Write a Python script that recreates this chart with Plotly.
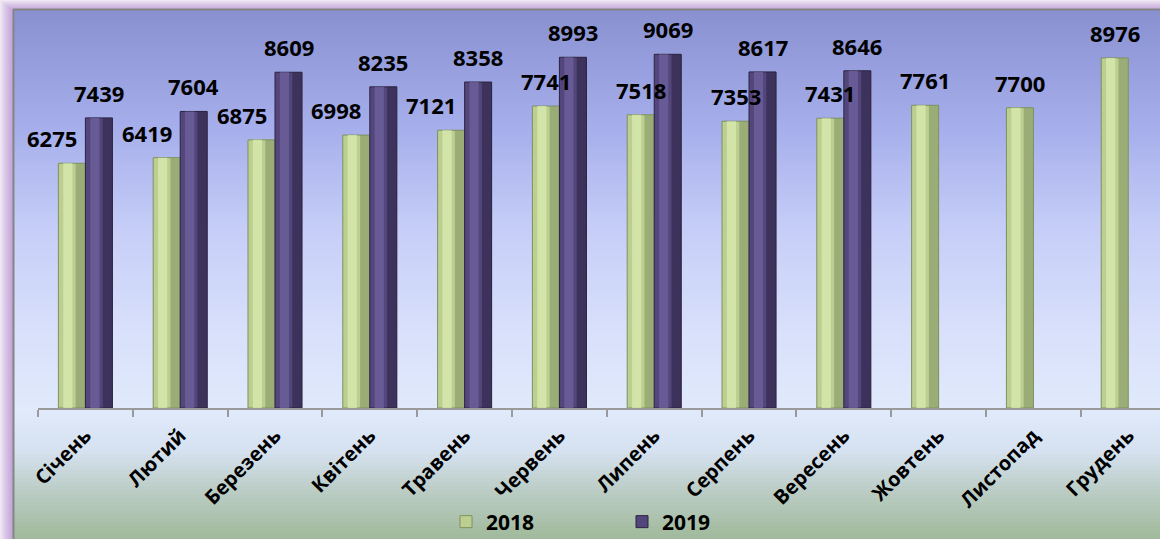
import plotly.graph_objects as go

months = ["Січень", "Лютий", "Березень", "Квітень", "Травень", "Червень",
          "Липень", "Серпень", "Вересень", "Жовтень", "Листопад", "Грудень"]
values_2018 = [6275, 6419, 6875, 6998, 7121, 7741, 7518, 7353, 7431, 7761, 7700, 8976]
values_2019 = [7439, 7604, 8609, 8235, 8358, 8993, 9069, 8617, 8646, None, None, None]
series_names = ["2018", "2019"]

W, H = 1160, 539
ML, MR, MT, MB = 38, 0, 10, 131
PW, PH = W - ML - MR, H - MT - MB
FONT = "Open Sans"


def px_x(p):
    return (p - ML) / PW


def px_y(p):
    return (H - MB - p) / PH


def hex2rgb(h):
    h = h.lstrip("#")
    return tuple(int(h[i:i + 2], 16) for i in (0, 2, 4))


def interp(stops, t):
    for (t0, c0), (t1, c1) in zip(stops, stops[1:]):
        if t0 <= t <= t1:
            f = 0 if t1 == t0 else (t - t0) / (t1 - t0)
            a, b = hex2rgb(c0), hex2rgb(c1)
            return "rgb(%d,%d,%d)" % tuple(round(a[k] + (b[k] - a[k]) * f) for k in range(3))
    return stops[-1][1]


shapes = []
# background vertical gradient (pixel y -> colour)
bg_stops = [(10, "#8890d0"), (120, "#a4acea"), (230, "#c6cef8"), (330, "#d8e0fb"),
            (410, "#e0eafb"), (450, "#d6e2f1"), (490, "#bccdc6"), (539, "#a0b99a")]
step = 4
for y0 in range(10, H, step):
    y1 = min(H, y0 + step + 1)
    shapes.append(dict(type="rect", xref="paper", yref="paper", layer="below",
                       x0=px_x(14), x1=px_x(W), y0=px_y(y1), y1=px_y(y0),
                       fillcolor=interp(bg_stops, y0 + step / 2), line_width=0))
# left frame gradient
fr_stops = [(0, "#efe7f4"), (6, "#d6c0e4"), (13, "#bea0d6")]
for x0 in range(0, 13):
    shapes.append(dict(type="rect", xref="paper", yref="paper", layer="below",
                       x0=px_x(x0), x1=px_x(x0 + 1.2), y0=px_y(H), y1=px_y(min(x0, 9)),
                       fillcolor=interp(fr_stops, x0), line_width=0))
# top frame gradient
for y0 in range(0, 9):
    shapes.append(dict(type="rect", xref="paper", yref="paper", layer="below",
                       x0=px_x(y0 + 1), x1=px_x(W), y0=px_y(y0 + 1.2), y1=px_y(y0),
                       fillcolor=interp([(0, "#efe7f4"), (5, "#d6c0e4"), (9, "#c4a8da")], y0),
                       line_width=0))
# grey inner border lines
shapes.append(dict(type="line", xref="paper", yref="paper", layer="below",
                   x0=px_x(13.5), x1=px_x(13.5), y0=px_y(H), y1=px_y(9),
                   line=dict(color="#858585", width=2)))
shapes.append(dict(type="line", xref="paper", yref="paper", layer="below",
                   x0=px_x(13), x1=px_x(W), y0=px_y(9.5), y1=px_y(9.5),
                   line=dict(color="#858585", width=2)))

fig = go.Figure()
w = 0.285
green = dict(edge="#7d9160", mid="#bccf90", hi="#d8e8ae")
purple = dict(edge="#2c2340", mid="#53467c", hi="#6e5f9a")

for vals, off, pal, name in [(values_2018, -w, green, series_names[0]),
                             (values_2019, 0.0, purple, series_names[1])]:
    fig.add_trace(go.Bar(x=months, y=vals, name=name, offset=off, width=w,
                         marker=dict(color=pal["mid"], line=dict(color=pal["edge"], width=1)),
                         showlegend=True, legendgroup=name))
    fig.add_trace(go.Bar(x=months, y=vals, offset=off + w * 0.64, width=w * 0.36,
                         marker=dict(color=pal["edge"], line_width=0, opacity=0.55),
                         showlegend=False, legendgroup=name, hoverinfo="skip"))
    fig.add_trace(go.Bar(x=months, y=vals, offset=off + w * 0.18, width=w * 0.34,
                         marker=dict(color=pal["hi"], line_width=0, opacity=0.8),
                         showlegend=False, legendgroup=name, hoverinfo="skip"))

annotations = []
lab_font = dict(family=FONT, size=22, color="#000", weight="bold")
for i, (a, b) in enumerate(zip(values_2018, values_2019)):
    shift = -20 if i < 5 else 0
    annotations.append(dict(x=i - w / 2, y=a, xref="x", yref="y", text=str(a),
                            showarrow=False, yanchor="bottom", yshift=8, xshift=shift,
                            font=lab_font))
    if b is not None:
        annotations.append(dict(x=i + w / 2, y=b, xref="x", yref="y", text=str(b),
                                showarrow=False, yanchor="bottom", yshift=8,
                                font=lab_font))

fig.update_layout(
    width=W, height=H,
    margin=dict(l=ML, r=MR, t=MT, b=MB, pad=0, autoexpand=False),
    paper_bgcolor="#e0eafb", plot_bgcolor="rgba(0,0,0,0)",
    barmode="overlay",
    shapes=shapes, annotations=annotations,
    font=dict(family=FONT, color="#000"),
    xaxis=dict(range=[-0.5, 11.835 - 0.5], tickangle=-45, automargin=False,
               showline=True, linecolor="#9a9a9a", linewidth=2,
               ticks="outside", tickson="boundaries", ticklen=7, tickcolor="#9a9a9a",
               tickwidth=2, ticklabelstandoff=6,
               tickfont=dict(family=FONT, size=20, color="#000", weight="bold"),
               showgrid=False, zeroline=False, fixedrange=True),
    yaxis=dict(range=[0, 10205], visible=False, showgrid=False, zeroline=False,
               automargin=False, fixedrange=True),
    legend=dict(orientation="h", x=px_x(446), xanchor="left", y=px_y(522), yanchor="middle",
                bgcolor="rgba(0,0,0,0)", entrywidth=131, entrywidthmode="pixels",
                itemwidth=30, font=dict(family=FONT, size=21, color="#000", weight="bold")),
    showlegend=True,
)

fig.write_html("out.html", config={"displayModeBar": False},
               post_script="document.body.style.margin='0';")
